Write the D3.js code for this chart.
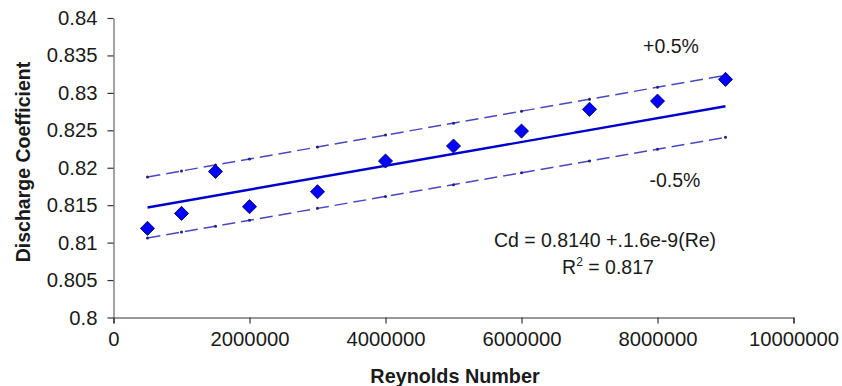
<!DOCTYPE html>
<html>
<head>
<meta charset="utf-8">
<script src="https://cdn.jsdelivr.net/npm/d3@7"></script>
<style>
  body { margin: 0; background: #fff; }
  svg text { font-family: Arial, "Liberation Sans", sans-serif; fill: #1a1a1a; }
</style>
</head>
<body>
<svg id="chart" width="842" height="386"></svg>
<script>
// Measured data: Reynolds number vs discharge coefficient
const reynolds = [500000, 1000000, 1500000, 2000000, 3000000, 4000000, 5000000, 6000000, 7000000, 8000000, 9000000];
const discharge = [0.8119, 0.8139, 0.8195, 0.8148, 0.8168, 0.8209, 0.8229, 0.8249, 0.8278, 0.8289, 0.8318];

// Linear fit and +/-0.5% band
const fitIntercept = 0.8139;
const fitSlope = 1.59e-9;
const bandPct = [0.005, -0.005];

const xTicks = [0, 2000000, 4000000, 6000000, 8000000, 10000000];
const yTicks = [0.8, 0.805, 0.81, 0.815, 0.82, 0.825, 0.83, 0.835, 0.84];

const svg = d3.select('#chart');
const fontSize = 19.5;
const tickFont = 20.3;

const x = d3.scaleLinear([0, 10000000], [113.5, 793.5]);
const y = d3.scaleLinear([0.8, 0.84], [317.5, 18]);

// Axes
const xAxis = svg.append('g')
  .attr('transform', 'translate(0,' + y(0.8) + ')')
  .call(d3.axisBottom(x).tickValues(xTicks).tickFormat(d3.format('d')).tickSizeOuter(6).tickSize(6).tickPadding(8));
const yAxis = svg.append('g')
  .attr('transform', 'translate(' + x(0) + ',0)')
  .call(d3.axisLeft(y).tickValues(yTicks).tickFormat(d => String(+d.toFixed(3))).tickSize(6).tickSizeOuter(0).tickPadding(10));

[xAxis, yAxis].forEach(a => {
  a.selectAll('path, line').attr('stroke', '#333').attr('stroke-width', 1.2);
  a.selectAll('text').style('font-size', tickFont + 'px').attr('fill', '#1a1a1a');
});
yAxis.select('path').attr('stroke', '#666');

// Axis titles
svg.append('text')
  .attr('x', 455).attr('y', 383)
  .attr('text-anchor', 'middle')
  .style('font-size', '19.8px').style('font-weight', 'bold')
  .text('Reynolds Number');

svg.append('text')
  .attr('transform', 'translate(30,162) rotate(-90)')
  .attr('text-anchor', 'middle')
  .style('font-size', '19.5px').style('font-weight', 'bold')
  .text('Discharge Coefficient');

// Fit lines
const xs = [reynolds[0], reynolds[reynolds.length - 1]];
const fit = re => fitIntercept + fitSlope * re;
const line = d3.line().x(d => x(d[0])).y(d => y(d[1]));

bandPct.forEach(p => {
  svg.append('path')
    .attr('d', line(xs.map(re => [re, fit(re) * (1 + p)])))
    .attr('fill', 'none')
    .attr('stroke', '#4848c0')
    .attr('stroke-width', 1.5)
    .attr('stroke-dasharray', '13,6');
  svg.append('g').selectAll('circle')
    .data(reynolds)
    .join('circle')
    .attr('cx', d => x(d))
    .attr('cy', d => y(fit(d) * (1 + p)))
    .attr('r', 1.5)
    .attr('fill', '#202080');
});

svg.append('path')
  .attr('d', line(xs.map(re => [re, fit(re)])))
  .attr('fill', 'none')
  .attr('stroke', '#0000cc')
  .attr('stroke-width', 2.4);

// Data points (diamonds)
svg.append('g').selectAll('path')
  .data(reynolds.map((re, i) => [re, discharge[i]]))
  .join('path')
  .attr('d', d3.symbol(d3.symbolSquare, 100))
  .attr('transform', d => 'translate(' + x(d[0]) + ',' + y(d[1]) + ') rotate(45)')
  .attr('fill', '#0000ff')
  .attr('stroke', '#000060')
  .attr('stroke-width', 0.8);

// Annotations
svg.append('text').attr('x', 671).attr('y', 53).attr('text-anchor', 'middle')
  .style('font-size', fontSize + 'px').text('+0.5%');
svg.append('text').attr('x', 675).attr('y', 187).attr('text-anchor', 'middle')
  .style('font-size', fontSize + 'px').text('-0.5%');
svg.append('text').attr('x', 605).attr('y', 247).attr('text-anchor', 'middle')
  .style('font-size', fontSize + 'px').text('Cd = 0.8140 +.1.6e-9(Re)');
const r2 = svg.append('text').attr('x', 608).attr('y', 274).attr('text-anchor', 'middle')
  .style('font-size', fontSize + 'px');
r2.append('tspan').text('R');
r2.append('tspan').attr('dy', -8).style('font-size', '12px').text('2');
r2.append('tspan').attr('dy', 8).text(' = 0.817');
</script>
</body>
</html>
